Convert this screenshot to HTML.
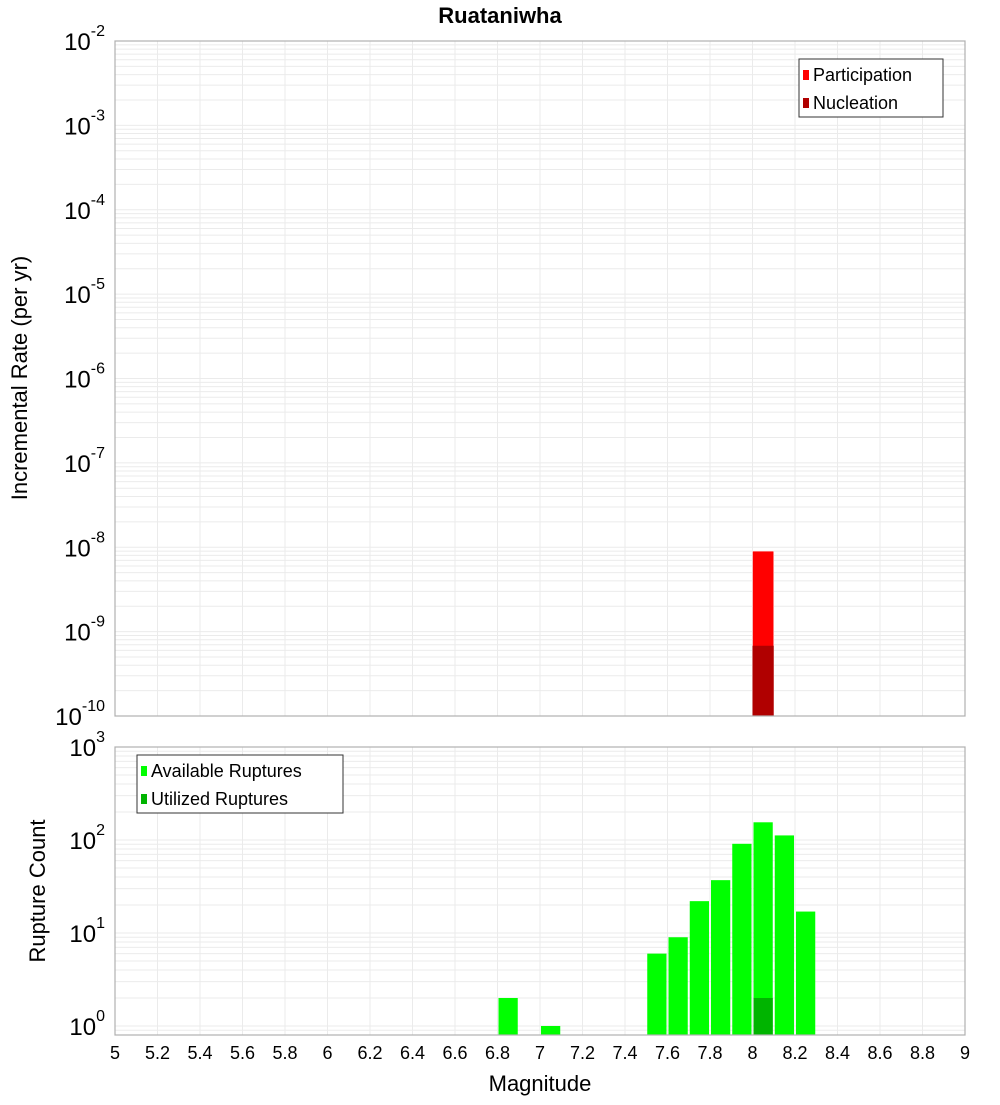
<!DOCTYPE html>
<html><head><meta charset="utf-8"><style>body{margin:0;background:#fff}svg{font-family:"Liberation Sans","DejaVu Sans",sans-serif}</style></head>
<body>
<svg id="c" width="1000" height="1100" xmlns="http://www.w3.org/2000/svg">
<text x="500" y="23" text-anchor="middle" font-size="22" font-weight="bold">Ruataniwha</text>
<g id="g"></g>
</svg>
<script>
const xTicks=[5,5.2,5.4,5.6,5.8,6,6.2,6.4,6.6,6.8,7,7.2,7.4,7.6,7.8,8,8.2,8.4,8.6,8.8,9];
const rateMags=[8.05];
const participation=[9.0e-9];
const nucleation=[6.8e-10];
const countMags=[6.85,7.05,7.55,7.65,7.75,7.85,7.95,8.05,8.15,8.25];
const available=[2,1,6,9,22,37,91,155,112,17];
const utilMags=[8.05];
const utilized=[2];
const topDecades=[-10,-9,-8,-7,-6,-5,-4,-3,-2];
const botDecades=[0,1,2,3];

const NS='http://www.w3.org/2000/svg';
const g=document.getElementById('g');
function el(t,a,p){const e=document.createElementNS(NS,t);for(const k in a)e.setAttribute(k,a[k]);(p||g).appendChild(e);return e;}
const X0=115,X1=965;
const xs=v=>X0+(v-5)/4*(X1-X0);
const T0=41,T1=716,B0=747,B1=1035;
const ty=v=>T0+(-2-Math.log10(v))/8*(T1-T0);
const bLo=Math.log10(0.8),bHi=3;
const by=v=>B0+(bHi-Math.log10(v))/(bHi-bLo)*(B1-B0);

function panel(y0,y1,yf,lo,hi,name){
  const gr=el('g',{});
  
  
  for(let d=Math.floor(lo);d<hi;d++){for(let m=1;m<10;m++){const v=m*Math.pow(10,d);const l=Math.log10(v);if(l<lo||l>hi)continue;const y=yf(v);el('line',{x1:X0,x2:X1,y1:y,y2:y,stroke:'#ebebeb','stroke-width':1},gr);}}
  xTicks.forEach(t=>{const x=xs(t);el('line',{x1:x,x2:x,y1:y0,y2:y1,stroke:'#ebebeb','stroke-width':1},gr);});
}
panel(T0,T1,ty,-10,-2,'top');
panel(B0,B1,by,bLo,3,'bottom');

rateMags.forEach((m,i)=>{
  const r=el('rect',{x:xs(m-0.05),width:xs(m+0.05)-xs(m-0.05),y:ty(participation[i]),height:T1-ty(participation[i]),fill:'#ff0000',stroke:'#fff','stroke-width':0.5});
  
  
  const n=el('rect',{x:xs(m-0.05),width:xs(m+0.05)-xs(m-0.05),y:ty(nucleation[i]),height:T1-ty(nucleation[i]),fill:'#b00000'});
  
  
});
countMags.forEach((m,i)=>{
  const r=el('rect',{x:xs(m-0.05)+1,width:xs(m+0.05)-xs(m-0.05)-2,y:by(available[i]),height:B1-by(available[i]),fill:'#00ff00'});
  
  
});
utilMags.forEach((m,i)=>{
  const r=el('rect',{x:xs(m-0.05)+1,width:xs(m+0.05)-xs(m-0.05)-2,y:by(utilized[i]),height:B1-by(utilized[i]),fill:'#00b400'});
  
  
});
[[T0,T1,'top-plot-frame'],[B0,B1,'bottom-plot-frame']].forEach(([a,b,n])=>{
  const r=el('rect',{x:X0,y:a,width:X1-X0,height:b-a,fill:'none',stroke:'#b0b0b0','stroke-width':1.2});
  
  
});
function ylab(y,e,name){
  const t=el('text',{x:105,y:y+9,'text-anchor':'end','font-size':24});
  
  
  t.textContent='10';
  const s=el('tspan',{dy:-14,'font-size':16},t);s.textContent=e;
}
topDecades.forEach(d=>ylab(ty(Math.pow(10,d)),String(d),'top-y-tick'));
botDecades.forEach(d=>ylab(by(Math.pow(10,d)),String(d),'bottom-y-tick'));
xTicks.forEach(t=>{
  const e=el('text',{x:xs(t),y:1059,'text-anchor':'middle','font-size':18});
  
  
  e.textContent=String(t);
});
let e=el('text',{x:540,y:1091,'text-anchor':'middle','font-size':22});
e.textContent='Magnitude';
e=el('text',{x:0,y:0,'text-anchor':'middle','font-size':22,transform:'translate(27,378) rotate(-90)'});
e.textContent='Incremental Rate (per yr)';
e=el('text',{x:0,y:0,'text-anchor':'middle','font-size':22,transform:'translate(45,891) rotate(-90)'});
e.textContent='Rupture Count';

function legend(x,y,w,items,name){
  const lg=el('g',{});
  
  
  el('rect',{x:x,y:y,width:w,height:58,fill:'#fff',stroke:'#333','stroke-width':1},lg);
  items.forEach((it,i)=>{
    el('rect',{x:x+4,y:y+11+i*28,width:6,height:10,fill:it[1]},lg);
    const t=el('text',{x:x+14,y:y+22+i*28,'font-size':18},lg);
    
    
    t.textContent=it[0];
  });
}
legend(799,59,144,[['Participation','#ff0000'],['Nucleation','#b00000']],'top-legend');
legend(137,755,206,[['Available Ruptures','#00ff00'],['Utilized Ruptures','#00b400']],'bottom-legend');
</script>
</body></html>
